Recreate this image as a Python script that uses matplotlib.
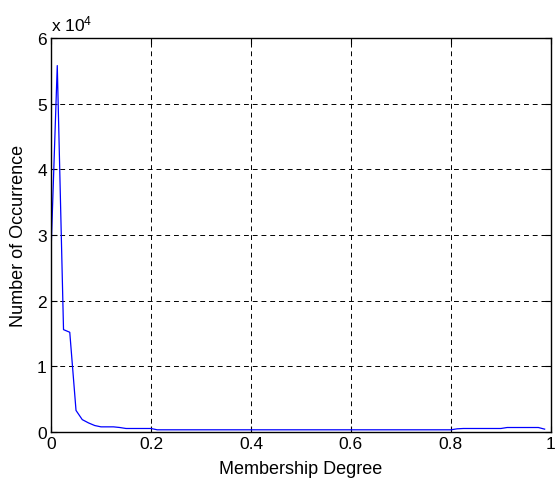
import matplotlib
matplotlib.use("Agg")
import matplotlib.pyplot as plt

plt.rcParams['font.family'] = ['Liberation Sans', 'DejaVu Sans']
plt.rcParams['mathtext.fontset'] = 'custom'
plt.rcParams['mathtext.rm'] = 'Liberation Sans'
plt.rcParams['mathtext.it'] = 'Liberation Sans'

membership = [0.0, 0.0125, 0.025, 0.0375, 0.05, 0.0625, 0.075, 0.0875, 0.1, 0.1125,
              0.125, 0.1375, 0.15, 0.1625, 0.175, 0.1875, 0.2, 0.2125, 0.225, 0.2375,
              0.25, 0.2625, 0.275, 0.2875, 0.3, 0.3125, 0.325, 0.3375, 0.35, 0.3625,
              0.375, 0.3875, 0.4, 0.4125, 0.425, 0.4375, 0.45, 0.4625, 0.475, 0.4875,
              0.5, 0.5125, 0.525, 0.5375, 0.55, 0.5625, 0.575, 0.5875, 0.6, 0.6125,
              0.625, 0.6375, 0.65, 0.6625, 0.675, 0.6875, 0.7, 0.7125, 0.725, 0.7375,
              0.75, 0.7625, 0.775, 0.7875, 0.8, 0.8125, 0.825, 0.8375, 0.85, 0.8625,
              0.875, 0.8875, 0.9, 0.9125, 0.925, 0.9375, 0.95, 0.9625, 0.975, 0.9875]
occurrence = [27400, 55800, 15600, 15200, 3300, 1900, 1400, 1000, 800, 800,
              800, 700, 550, 550, 550, 550, 550, 350, 350, 350,
              350, 350, 350, 350, 350, 350, 350, 350, 350, 350,
              350, 350, 350, 350, 350, 350, 350, 350, 350, 350,
              350, 350, 350, 350, 350, 350, 350, 350, 350, 350,
              350, 350, 350, 350, 350, 350, 350, 350, 350, 350,
              350, 350, 350, 350, 350, 500, 550, 550, 550, 550,
              550, 550, 550, 700, 700, 700, 700, 700, 700, 450]

xticks = [0, 0.2, 0.4, 0.6, 0.8, 1]
xticklabels = ['0', '0.2', '0.4', '0.6', '0.8', '1']
yticks = [0, 10000, 20000, 30000, 40000, 50000, 60000]
yticklabels = ['0', '1', '2', '3', '4', '5', '6']

fig = plt.figure(figsize=(5.57, 4.85), dpi=100)
ax = fig.add_axes([0.0916, 0.107, 0.8974, 0.8126])
ax.plot(membership, occurrence, color='#0000ff', linewidth=0.9)
ax.set_xlim(0, 1)
ax.set_ylim(0, 60000)
ax.set_xticks(xticks)
ax.set_xticklabels(xticklabels)
ax.set_yticks(yticks)
ax.set_yticklabels(yticklabels)
ax.tick_params(direction='in', labelsize=12.5, length=4, width=0.8, top=True, right=True, pad=3)
ax.grid(True, color='black', linestyle=(0, (5, 4)), linewidth=0.7)
for s in ax.spines.values():
    s.set_linewidth(1.0)
ax.set_xlabel('Membership Degree', fontsize=13, labelpad=6)
ax.set_ylabel('Number of Occurrence', fontsize=13, labelpad=7)
ax.text(0.0, 1.012, 'x 10$^{4}$', transform=ax.transAxes, fontsize=12.5,
        ha='left', va='bottom')
fig.savefig('out.png', dpi=100)
